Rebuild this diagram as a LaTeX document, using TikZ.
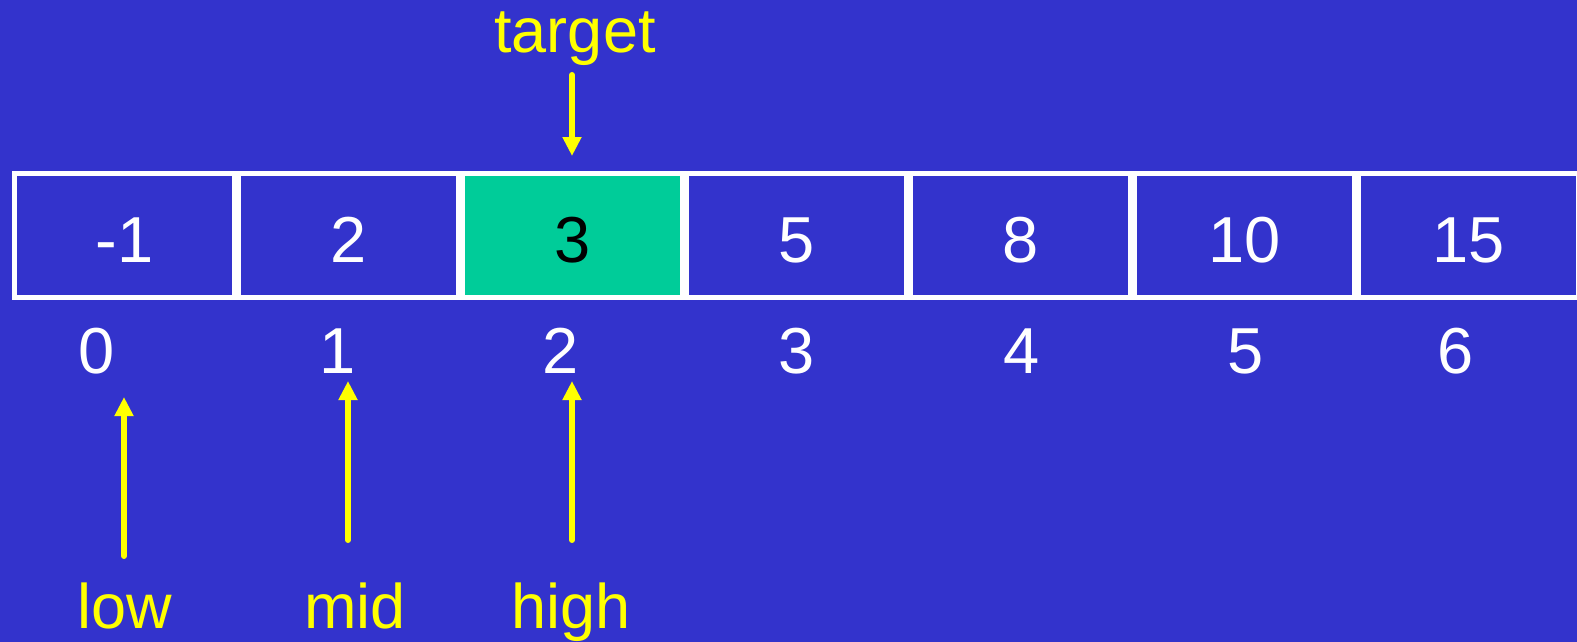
\documentclass[tikz,border=0pt]{standalone}
\usepackage{fontspec}
\setmainfont{Liberation Sans}
\usetikzlibrary{arrows.meta}
\definecolor{bgblue}{RGB}{51,51,204}
\definecolor{hitgreen}{RGB}{0,204,153}
\definecolor{ptryellow}{RGB}{255,255,0}
\tikzset{
  cell/.style={draw=white, line width=5pt, fill=bgblue, minimum width=220pt,
    minimum height=124pt, inner sep=0pt, text=white,
    text height=53pt, text depth=0pt,
    font=\fontsize{65}{70}\selectfont},
  hit/.style={cell, fill=hitgreen, text=black},
  idx/.style={anchor=base, text=white, inner sep=0pt, font=\fontsize{65}{70}\selectfont},
  ptrname/.style={anchor=base, text=ptryellow, inner sep=0pt, font=\fontsize{63}{70}\selectfont},
  ptr/.style={draw=ptryellow, line width=6pt, line cap=round,
    -{Triangle[length=19pt,width=18pt]}}
}
\begin{document}
\begin{tikzpicture}[x=1pt,y=-1pt]
  \fill[bgblue] (0,0) rectangle (1577,642);
  \useasboundingbox (0,0) rectangle (1577,642);
  \clip (0,0) rectangle (1577,642);

  % array cells
  \node[cell] (c0) at (124.5,235.5) {-1};
  \node[cell] (c1) at (348.5,235.5) {2};
  \node[hit]  (c2) at (572.5,235.5) {3};
  \node[cell] (c3) at (796.5,235.5) {5};
  \node[cell] (c4) at (1020.5,235.5) {8};
  \node[cell] (c5) at (1244.5,235.5) {10};
  \node[cell] (c6) at (1468.5,235.5) {15};

  % indices
  \node[idx] (i0) at (97,373) {0};
  \node[idx] (i1) at (338,373) {1};
  \node[idx] (i2) at (561,373) {2};
  \node[idx] (i3) at (797,373) {3};
  \node[idx] (i4) at (1022,373) {4};
  \node[idx] (i5) at (1246,373) {5};
  \node[idx] (i6) at (1456,373) {6};

  % target pointer
  \node[ptrname] (target) at (575,53) {target};
  \coordinate (tTail) at (572,75);
  \coordinate (tTip) at (572,156);
  \draw[ptr] (tTail) -- (tTip);

  % low / mid / high pointers
  \node[ptrname] (low)  at (125,628) {low};
  \node[ptrname] (mid)  at (355,628) {mid};
  \node[ptrname] (high) at (571,628) {high};
  \coordinate (lTail) at (124,556);  \coordinate (lTip) at (124,397);
  \coordinate (mTail) at (348,540);  \coordinate (mTip) at (348,381);
  \coordinate (hTail) at (572,540);  \coordinate (hTip) at (572,381);
  \draw[ptr] (lTail) -- (lTip);
  \draw[ptr] (mTail) -- (mTip);
  \draw[ptr] (hTail) -- (hTip);
\end{tikzpicture}
\end{document}
